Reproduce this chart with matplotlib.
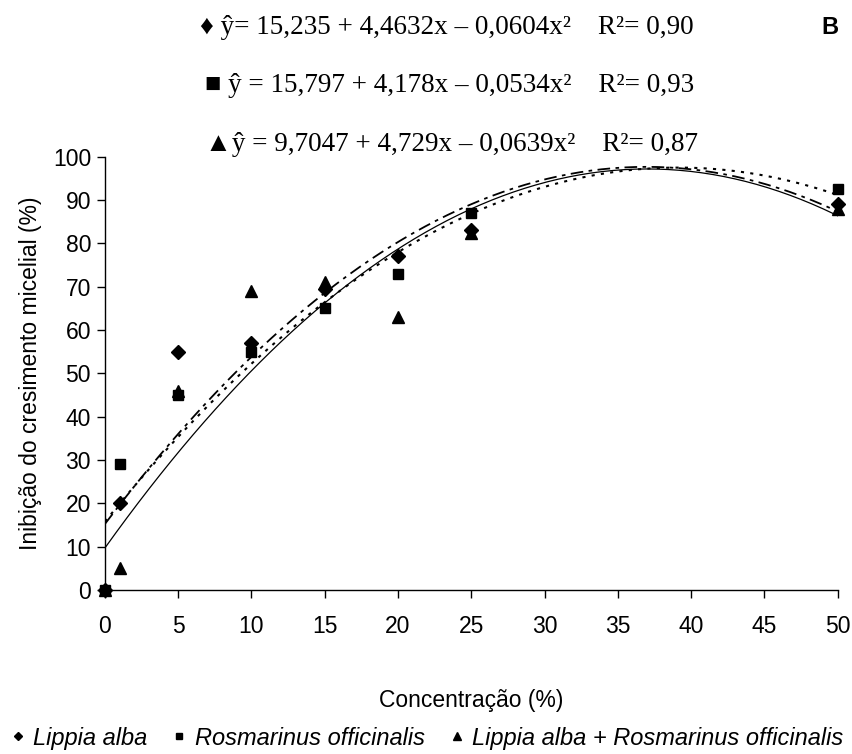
import matplotlib
matplotlib.use("Agg")
import matplotlib.pyplot as plt
import numpy as np

plt.rcParams['font.family'] = ['Liberation Sans', 'DejaVu Sans']

# concentration (%) and inhibition (%)
conc = [0, 1, 5, 10, 15, 20, 25, 50]
lippia = [0, 20, 55, 57, 69.5, 77, 83, 89]
rosmarinus = [0, 29, 45, 55, 65, 73, 87, 92.5]
mistura = [0, 5, 46, 69, 71, 63, 82.5, 88]

# quadratic fits (a, b, c) from the equations on the chart
coef_lippia = [15.235, 4.4632, -0.0604]
coef_rosmarinus = [15.797, 4.178, -0.0534]
coef_mistura = [9.7047, 4.729, -0.0639]

equacoes = [
    "\u2666 \u0177= 15,235 + 4,4632x \u2013 0,0604x\u00b2    R\u00b2= 0,90",
    "\u25a0 \u0177 = 15,797 + 4,178x \u2013 0,0534x\u00b2    R\u00b2= 0,93",
    "\u25b2\u0177 = 9,7047 + 4,729x \u2013 0,0639x\u00b2    R\u00b2= 0,87",
]
nomes = ["Lippia alba", "Rosmarinus officinalis",
         "Lippia alba + Rosmarinus officinalis"]

fig = plt.figure(figsize=(8.53, 7.54), dpi=100)
ax = fig.add_axes([0.123, 0.2175, 0.859, 0.5745])

xs = np.linspace(0, 50, 200)
def curva(c):
    return c[0] + c[1] * xs + c[2] * xs ** 2

ax.plot(xs, curva(coef_lippia), color='black', lw=1.3, ls=(0, (7, 3, 2, 3)))
ax.plot(xs, curva(coef_rosmarinus), color='black', lw=1.5, ls=(0, (1.5, 3)))
ax.plot(xs, curva(coef_mistura), color='black', lw=0.9, ls='-')

h1, = ax.plot(conc, lippia, 'D', color='black', ms=7, ls='none', clip_on=False)
h2, = ax.plot(conc, rosmarinus, 's', color='black', ms=7.5, ls='none', clip_on=False)
h3, = ax.plot(conc, mistura, '^', color='black', ms=8.5, ls='none', clip_on=False)

ax.set_xlim(0, 50)
ax.set_ylim(0, 100)
ax.set_xticks(np.arange(0, 51, 5))
ax.set_yticks(np.arange(0, 101, 10))
ax.tick_params(labelsize=16.5, length=6, width=1, direction='out', pad=4)
ax.tick_params(axis='x', pad=12)
for s in ['top', 'right']:
    ax.spines[s].set_visible(False)
for s in ['left', 'bottom']:
    ax.spines[s].set_linewidth(1)

ax.set_xlabel("Concentra\u00e7\u00e3o (%)", fontsize=16.5, labelpad=37)
ax.set_ylabel("Inibi\u00e7\u00e3o do cresimento micelial (%)", fontsize=16.5, labelpad=8)

ypos = [0.963, 0.887, 0.808]
xpos = [0.234, 0.240, 0.240]
for t, y, x in zip(equacoes, ypos, xpos):
    fig.text(x, y, t, fontsize=19.5, va='center', ha='left',
             family=['Liberation Serif', 'DejaVu Sans'])
fig.text(0.973, 0.963, "B", fontsize=17, fontweight='bold', ha='center', va='center')

leg = fig.legend([h1, h2, h3], nomes, loc='center', bbox_to_anchor=(0.5, 0.021),
                 ncol=3, frameon=False, markerscale=0.6, handlelength=0.7,
                 handletextpad=0.3, columnspacing=1.0,
                 prop={'style': 'italic', 'size': 17})

fig.savefig("out.png", dpi=100)
